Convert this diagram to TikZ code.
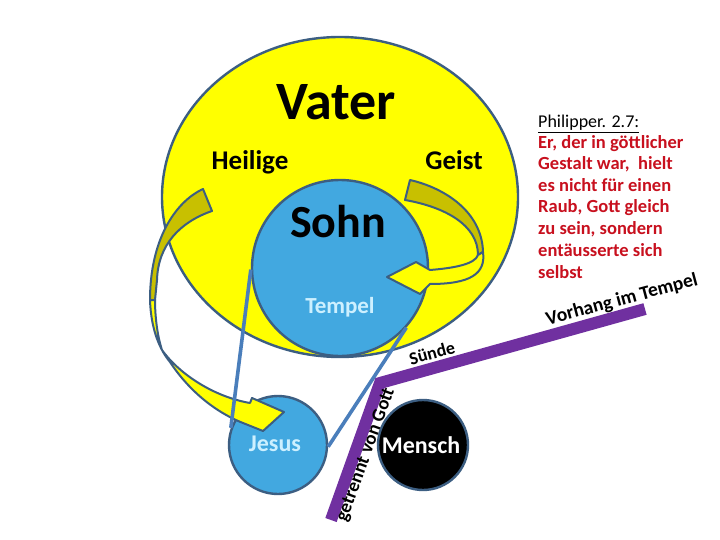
\documentclass[tikz,border=0pt]{standalone}
\usepackage{fontspec}
\setmainfont{Carlito}
\usetikzlibrary{shapes.geometric}
\definecolor{ylw}{RGB}{255,255,0}
\definecolor{olv}{RGB}{200,192,0}
\definecolor{outl}{RGB}{60,94,130}
\definecolor{sky}{RGB}{66,168,224}
\definecolor{steel}{RGB}{74,126,187}
\definecolor{purp}{RGB}{112,48,160}
\definecolor{pale}{RGB}{205,240,255}
\definecolor{bibred}{RGB}{200,16,30}
\tikzset{
  shape outline/.style={draw=outl, line width=2.4pt},
  disc/.style={circle, inner sep=0pt, shape outline},
  conn/.style={draw=steel, line width=3.6pt},
  band/.style={draw=outl, line width=2pt, line join=round},
  bar/.style={draw=purp, line width=12pt, line join=miter},
  lbl/.style={inner sep=0pt, anchor=base},
  quoteline/.style={inner sep=0pt, anchor=base west, text=bibred, font=\bfseries\fsz{18.5}},
}
\newcommand{\fsz}[1]{\fontsize{#1}{#1}\selectfont}
\begin{document}
\begin{tikzpicture}[x=1pt,y=-1pt]
\useasboundingbox (0,0) rectangle (720,540);
\fill[white] (0,0) rectangle (720,540);

% big yellow ellipse (Vater)
\node[ellipse, shape outline, fill=ylw, minimum width=356pt, minimum height=320pt, inner sep=0pt] (vater) at (340,197) {};

% circles
\node[disc, fill=sky, minimum size=176pt] (sohn) at (340,268) {};
\node[disc, fill=sky, minimum size=98pt] (jesus) at (278,445) {};
\node[disc, fill=black, minimum size=90pt] (mensch) at (423,445) {};

% left ribbon arrow (Heilige -> Jesus)
\filldraw[band, fill=olv] (203,189) .. controls (175,202) and (150,240) .. (150,300)
  -- (155,300) -- (157,280)
  .. controls (158,245) and (180,222) .. (212,211) -- cycle;
\filldraw[band, fill=ylw] (150,300) .. controls (151,330) and (160,350) .. (170,362)
  .. controls (185,385) and (210,410) .. (243,423)
  -- (263,431) -- (284,412) -- (252,398) -- (250,403)
  .. controls (215,397) and (180,375) .. (162,350)
  .. controls (157,335) and (155,315) .. (155,300) -- cycle;

% right ribbon arrow (Geist -> Sohn)
\filldraw[band, fill=olv] (410,180) .. controls (445,188) and (482,212) .. (483,252)
  -- (478,255) .. controls (478,225) and (445,207) .. (405,200) -- cycle;
\filldraw[band, fill=ylw] (483,252) .. controls (486,274) and (470,284) .. (430,284)
  -- (420,294) -- (387,277) -- (416,262) -- (430,270)
  .. controls (455,268) and (475,264) .. (478,255) -- cycle;

% connectors Sohn -> Jesus
\draw[conn] (sohn.181) -- (jesus.160);
\draw[conn] (sohn.-42) -- (jesus.-2);

% purple bar (Vorhang / Suende)
\coordinate (barA) at (331,520);
\coordinate (barB) at (380,383);
\coordinate (barC) at (645,309);
\draw[bar] (barA) -- (barB) -- (barC);

% texts in the circles
\node[lbl, font=\bfseries\fsz{54}] (tvater) at (336,120) {Vater};
\node[lbl, font=\bfseries\fsz{27}] (theil) at (250,170) {Heilige};
\node[lbl, font=\bfseries\fsz{27}] (tgeist) at (454,170) {Geist};
\node[lbl, font=\bfseries\fsz{46}] (tsohn) at (338,237) {Sohn};
\node[lbl, font=\bfseries\fsz{23}, text=pale] (ttempel) at (340,313) {Tempel};
\node[lbl, font=\bfseries\fsz{24}, text=pale] (tjesus) at (275,451) {Jesus};
\node[lbl, font=\bfseries\fsz{24}, text=white] (tmensch) at (421,453) {Mensch};

% rotated labels
\node[inner sep=0pt, rotate=15, font=\bfseries\fsz{18}] (tsuende) at (432,353) {Sünde};
\node[inner sep=0pt, rotate=70, font=\bfseries\fsz{19}] (tgetrennt) at (366,455) {getrennt von Gott};
\node[inner sep=0pt, rotate=15, font=\bfseries\fsz{19.5}] (tvorhang) at (622,300) {Vorhang im Tempel};

% bible quote
\node[inner sep=0pt, anchor=base west, font=\fsz{18}] (qtitle) at (538,128) {\underline{Philipper. 2.7:}};
\node[quoteline] (q1) at (538,149) {Er, der in göttlicher};
\node[quoteline] (q2) at (538,170) {Gestalt war,~ hielt};
\node[quoteline] (q3) at (538,192) {es nicht für einen};
\node[quoteline] (q4) at (538,213) {Raub, Gott gleich};
\node[quoteline] (q5) at (538,235) {zu sein, sondern};
\node[quoteline] (q6) at (538,256) {entäusserte sich};
\node[quoteline] (q7) at (538,278) {selbst};
\end{tikzpicture}
\end{document}
